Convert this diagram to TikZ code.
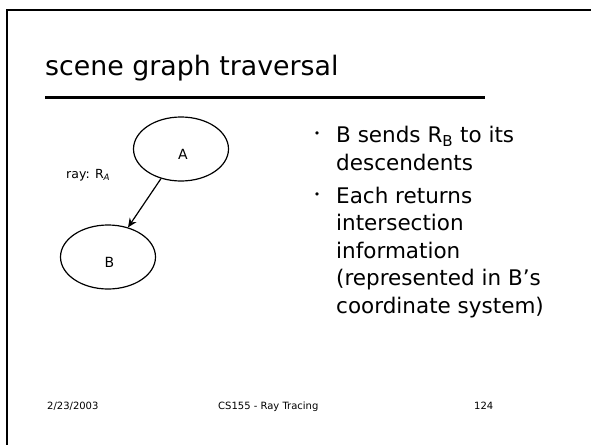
\documentclass[tikz,border=0pt]{standalone}
\usepackage{fontspec}
\setmainfont{DejaVu Sans}
\usetikzlibrary{shapes.geometric,arrows.meta}
\newcommand{\nodelabel}[1]{\raisebox{-10pt}[0pt][0pt]{#1}}
\tikzset{
  frame/.style={line width=2.5pt, line cap=rect},
  titlerule/.style={line width=3pt},
  graphnode/.style={draw, ellipse, line width=1.2pt, minimum width=95pt, minimum height=64pt, inner sep=0pt, font=\fontsize{14}{16}\selectfont},
  link/.style={line width=1.2pt, -{Stealth[length=9pt,width=8pt]}},
  titletext/.style={anchor=base west, inner sep=0pt, font=\fontsize{26.8}{30}\selectfont},
  bodytext/.style={anchor=base west, inner sep=0pt, align=left, font=\fontsize{21.5}{27.5}\selectfont},
  bullettext/.style={anchor=center, inner sep=0pt, font=\fontsize{11}{12}\selectfont},
  smalltext/.style={anchor=base west, inner sep=0pt, font=\fontsize{12.5}{14}\selectfont},
  foottext/.style={anchor=base west, inner sep=0pt, font=\fontsize{10}{12}\selectfont}
}
\begin{document}
\begin{tikzpicture}[x=1pt,y=-1pt]
\useasboundingbox[fill=white] (0,0) rectangle (591,444);
\draw[frame] (591,10) -- (7,10) -- (7,444);
\node[titletext] (title) at (45,75) {scene graph traversal};
\draw[titlerule] (45,97.5) -- (485,97.5);
\node[graphnode] (A) at (181,149) {\nodelabel{\hspace{4pt}A}};
\node[graphnode] (B) at (108,257) {\nodelabel{\hspace{3pt}B}};
\draw[link] (A) -- (B);
\node[smalltext] (ray) at (66,178) {ray: R\textsubscript{\textit{A}}};
\node[bullettext] (d1) at (317,135) {•};
\node[bodytext] (t1) at (336,170) {B sends R\textsubscript{B} to its\\descendents};
\node[bullettext] (d2) at (317,196) {•};
\node[bodytext] (t2) at (336,313) {Each returns\\intersection\\information\\(represented in B’s\\coordinate system)};
\node[foottext] (date) at (47,409) {2/23/2003};
\node[foottext] (course) at (218,409) {CS155 - Ray Tracing};
\node[foottext] (page) at (474,409) {124};
\end{tikzpicture}
\end{document}
